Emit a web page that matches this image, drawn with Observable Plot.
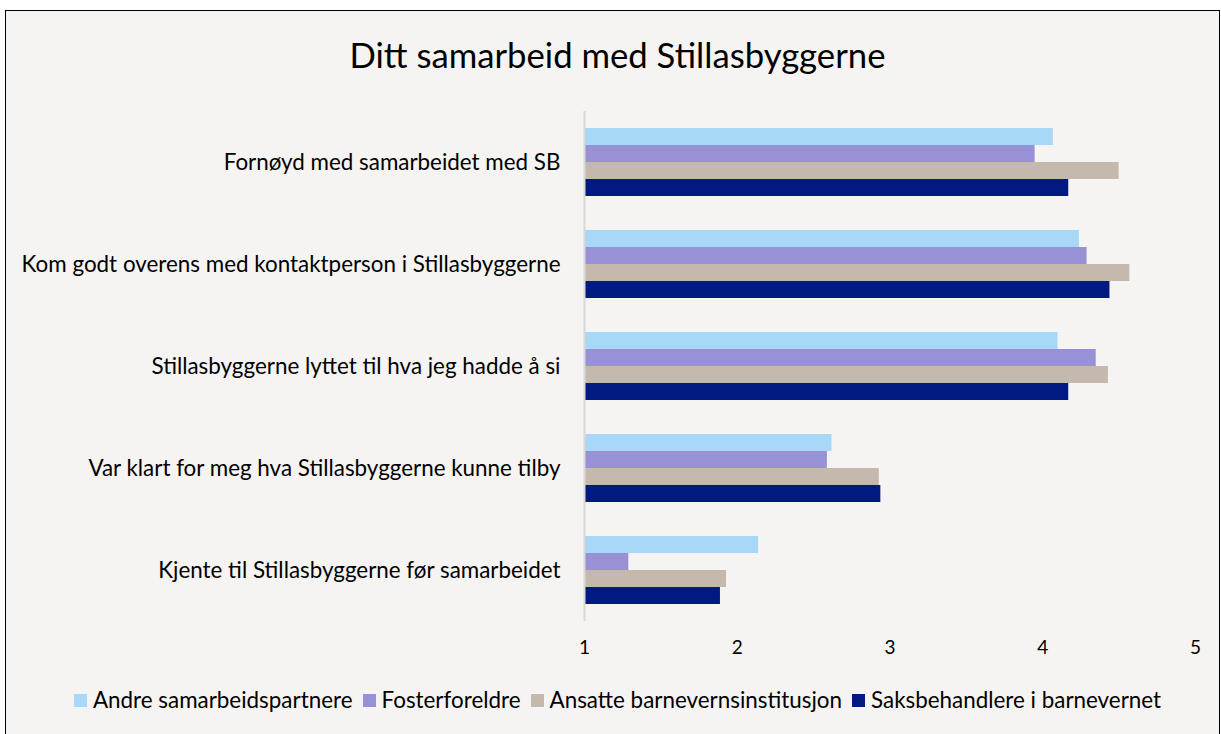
<!DOCTYPE html>
<html>
<head>
<meta charset="utf-8">
<script src="https://cdn.jsdelivr.net/npm/d3@7"></script>
<script src="https://cdn.jsdelivr.net/npm/@observablehq/plot@0.6"></script>
<style>
  html, body { margin: 0; padding: 0; background: #ffffff; }
  body { width: 1221px; height: 734px; position: relative; overflow: hidden; font-family: Lato, "Open Sans", sans-serif; }
  #frame { position: absolute; left: 5px; top: 10px; width: 1215px; height: 740px; border: 1.5px solid #000; background: #f5f4f2; box-sizing: border-box; }
  #title { position: absolute; left: 0; width: 1235px; top: 33px; text-align: center; font-size: 34.7px; color: #000; line-height: 44px; }
  #chart { position: absolute; left: 0; top: 90px; }
  #legend { position: absolute; left: 0; width: 1235px; top: 687px; display: flex; justify-content: center; align-items: center; font-size: 22.4px; color: #000; line-height: 26px; }
  .item { display: flex; align-items: center; margin: 0 5px; }
  .sw { width: 13px; height: 13px; margin-right: 6px; }
</style>
</head>
<body>
<div id="frame"></div>
<div id="title">Ditt samarbeid med Stillasbyggerne</div>
<div id="chart"></div>
<div id="legend"></div>
<script>
const categories = [
  "Fornøyd med samarbeidet med SB",
  "Kom godt overens med kontaktperson i Stillasbyggerne",
  "Stillasbyggerne lyttet til hva jeg hadde å si",
  "Var klart for meg hva Stillasbyggerne kunne tilby",
  "Kjente til Stillasbyggerne før samarbeidet"
];
const series = [
  "Andre samarbeidspartnere",
  "Fosterforeldre",
  "Ansatte barnevernsinstitusjon",
  "Saksbehandlere i barnevernet"
];
const andre   = [4.07, 4.24, 4.10, 2.62, 2.14];
const foster  = [3.95, 4.29, 4.35, 2.59, 1.29];
const ansatte = [4.50, 4.57, 4.43, 2.93, 1.93];
const saks    = [4.17, 4.44, 4.17, 2.94, 1.89];
const xTicks = [1, 2, 3, 4, 5];
const colors = ["#a8d8f8", "#9891d5", "#c5b9ad", "#001a82"];

const seriesValues = [andre, foster, ansatte, saks];
const data = [];
categories.forEach((c, i) => {
  series.forEach((s, j) => {
    data.push({category: c, series: s, value: seriesValues[j][i]});
  });
});

const chart = Plot.plot({
  width: 1221,
  height: 571,
  marginLeft: 584,
  marginRight: 26,
  marginTop: 20,
  marginBottom: 40,
  style: {background: "transparent", fontFamily: "Lato, 'Open Sans', sans-serif", color: "#000"},
  x: {domain: [1, 5], axis: null},
  y: {domain: series, paddingInner: 0, paddingOuter: 1, axis: null},
  fy: {domain: categories, padding: 0, axis: null},
  color: {domain: series, range: colors},
  marks: [
    Plot.barX(data, {x1: 1, x2: "value", y: "series", fy: "category", fill: "series"}),
    Plot.ruleX([1], {stroke: "#d9d9d9", strokeWidth: 2}),
    Plot.axisFy({anchor: "left", tickSize: 0, tickPadding: 24, fontSize: 22.4, label: null}),
    Plot.axisX({ticks: xTicks, tickFormat: d => String(d), tickSize: 0, tickPadding: 19, fontSize: 19, label: null})
  ]
});
document.getElementById("chart").appendChild(chart);

const legend = document.getElementById("legend");
series.forEach((s, j) => {
  const item = document.createElement("div");
  item.className = "item";
  const sw = document.createElement("div");
  sw.className = "sw";
  sw.style.background = colors[j];
  const t = document.createElement("span");
  t.textContent = s;
  item.appendChild(sw);
  item.appendChild(t);
  legend.appendChild(item);
});
</script>
</body>
</html>
